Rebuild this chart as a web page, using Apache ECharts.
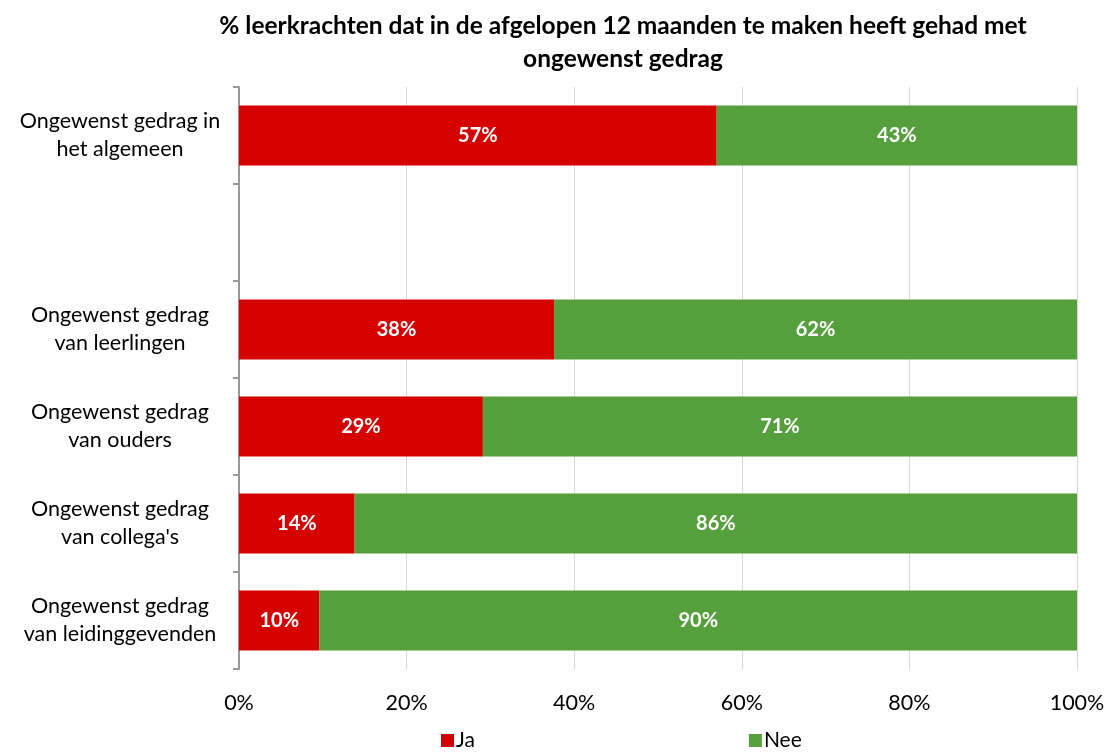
<!DOCTYPE html>
<html>
<head>
<meta charset="utf-8">
<script src="https://cdn.jsdelivr.net/npm/echarts@6/dist/echarts.min.js"></script>
<style>
  html, body { margin: 0; padding: 0; background: #fff; }
  #chart { width: 1109px; height: 752px; }
</style>
</head>
<body>
<div id="chart"></div>
<script>
const categories = [
  "Ongewenst gedrag in\nhet algemeen",
  "",
  "Ongewenst gedrag\nvan leerlingen",
  "Ongewenst gedrag\nvan ouders",
  "Ongewenst gedrag\nvan collega's",
  "Ongewenst gedrag\nvan leidinggevenden"
];
const jaValues = [57.0, null, 37.6, 29.1, 13.8, 9.6];
const neeValues = [43.0, null, 62.4, 70.9, 86.2, 90.4];
const xTicks = [0, 20, 40, 60, 80, 100];

const fontFamily = "Lato, 'Open Sans', sans-serif";
const chart = echarts.init(document.getElementById("chart"));

const labelStyle = {
  show: true,
  position: "inside",
  color: "#fff",
  fontWeight: "bold",
  fontSize: 20,
  fontFamily: fontFamily,
  formatter: (p) => Math.round(p.value) + "%",
};

chart.setOption({
  animation: false,
  title: {
    text: "% leerkrachten dat in de afgelopen 12 maanden te maken heeft gehad met\nongewenst gedrag",
    left: 618,
    top: 5,
    textAlign: "center",
    textStyle: {
      fontFamily: fontFamily,
      fontWeight: "bold",
      fontSize: 24.5,
      color: "#000",
      lineHeight: 33,
    },
  },
  legend: {
    left: 436,
    top: 725,
    itemWidth: 13,
    itemHeight: 13,
    itemGap: 274,
    icon: "rect",
    textStyle: { fontFamily: fontFamily, fontSize: 21, color: "#000", padding: [0, 0, 0, -3] },
    data: ["Ja", "Nee"],
  },
  grid: { left: 239, right: 32, top: 87, bottom: 83, containLabel: false },
  xAxis: {
    type: "value",
    min: xTicks[0],
    max: xTicks[xTicks.length - 1],
    interval: 20,
    axisLine: { show: false },
    axisTick: { show: false },
    splitLine: { lineStyle: { color: "#d9d9d9", width: 1 } },
    axisLabel: {
      formatter: "{value}%",
      fontFamily: fontFamily,
      fontSize: 21.5,
      color: "#000",
      margin: 23,
    },
  },
  yAxis: {
    type: "category",
    inverse: true,
    data: categories,
    axisLine: { show: true, lineStyle: { color: "#999", width: 2 } },
    axisTick: { show: true, length: 6, lineStyle: { color: "#999", width: 2 } },
    axisLabel: {
      fontFamily: fontFamily,
      fontSize: 21.5,
      color: "#000",
      align: "center",
      margin: 119,
      lineHeight: 28,
    },
  },
  series: [
    {
      name: "Ja",
      type: "bar",
      stack: "total",
      data: jaValues,
      barWidth: "62%",
      itemStyle: { color: "#d50000" },
      label: labelStyle,
    },
    {
      name: "Nee",
      type: "bar",
      stack: "total",
      data: neeValues,
      barWidth: "62%",
      itemStyle: { color: "#559f3c" },
      label: labelStyle,
    },
  ],
});
</script>
</body>
</html>
